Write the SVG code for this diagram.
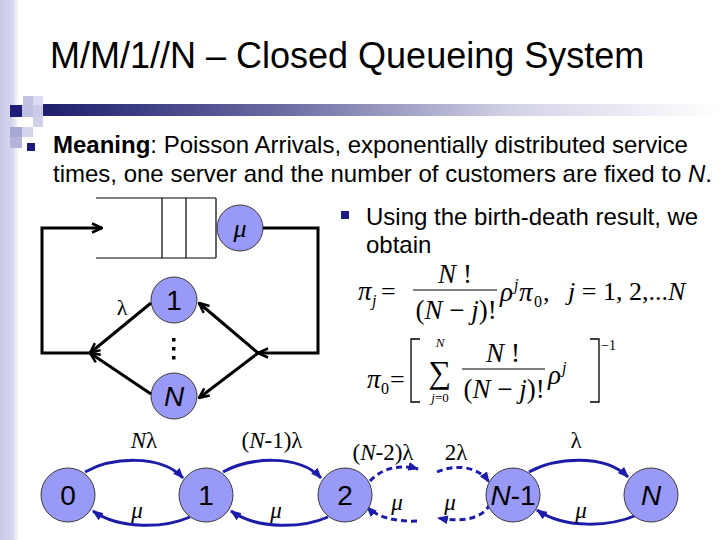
<svg xmlns="http://www.w3.org/2000/svg" width="720" height="540" viewBox="0 0 720 540">
<defs>
<linearGradient id="strip" x1="0" y1="0" x2="1" y2="0">
<stop offset="0" stop-color="#c9c9e6"/>
<stop offset="0.65" stop-color="#d6d6ee"/>
<stop offset="1" stop-color="#ffffff"/>
</linearGradient>
<linearGradient id="bar" x1="0" y1="0" x2="1" y2="0">
<stop offset="0" stop-color="#1e1e6e"/>
<stop offset="0.35" stop-color="#6a6aa2"/>
<stop offset="0.7" stop-color="#d4d4e8"/>
<stop offset="1" stop-color="#ffffff"/>
</linearGradient>
<marker id="oa" viewBox="0 0 12 12" refX="11" refY="6" markerWidth="12" markerHeight="12" markerUnits="userSpaceOnUse" orient="auto">
<path d="M1,1.5 L11,6 L1,10.5" fill="none" stroke="#000" stroke-width="2.5"/>
</marker>
<marker id="ba" viewBox="0 0 10 8" refX="9" refY="4" markerWidth="11" markerHeight="9" markerUnits="userSpaceOnUse" orient="auto">
<path d="M0,0 L10,4 L0,8 z" fill="#1c1ca8"/>
</marker>
<style>
.sans{font-family:"Liberation Sans",Arial,sans-serif;fill:#000}
.serif{font-family:"Liberation Serif","Times New Roman",serif;fill:#000}
.it{font-style:italic}
.node{fill:#9999f8;stroke:#3a3a3a;stroke-width:1}
.blk{fill:none;stroke:#000;stroke-width:3}
.box{fill:none;stroke:#000;stroke-width:1.2}
.arc{fill:none;stroke:#1c1ca8;stroke-width:3;marker-end:url(#ba)}
.dash{stroke-dasharray:6 4}
.bul{fill:#1a1a80}
</style>
</defs>

<rect x="0" y="0" width="720" height="540" fill="#fff"/>
<rect x="0" y="0" width="19" height="540" fill="url(#strip)"/>

<!-- decoration -->
<g id="decor">
<rect x="23" y="96" width="10" height="9" fill="#c4c4e2"/>
<rect x="33" y="96" width="10" height="9" fill="#dcdcf0"/>
<rect x="10" y="105" width="12" height="12" fill="#1e1e78"/>
<rect x="22" y="105" width="11" height="12" fill="#c0c0e0"/>
<rect x="33" y="105" width="10" height="12" fill="#cacae6"/>
<rect x="43" y="104" width="677" height="12" fill="url(#bar)"/>
<rect x="33" y="117" width="10" height="10" fill="#d0d0ea"/>
<rect x="10" y="127" width="12" height="10" fill="#a8a8d4"/>
<rect x="22" y="127" width="11" height="10" fill="#d4d4ec"/>
<rect x="10" y="137" width="12" height="11" fill="#b4b4da"/>
</g>

<text class="sans" x="50" y="68" font-size="36">M/M/1//N – Closed Queueing System</text>

<rect class="bul" x="27" y="143" width="8" height="8"/>
<text class="sans" x="53" y="153" font-size="24"><tspan font-weight="bold">Meaning</tspan>: Poisson Arrivals, exponentially distributed service</text>
<text class="sans" x="53" y="182" font-size="24">times, one server and the number of customers are fixed to <tspan class="it">N</tspan>.</text>

<rect class="bul" x="341" y="211" width="8" height="8"/>
<text class="sans" x="366" y="225" font-size="24">Using the birth-death result, we</text>
<text class="sans" x="366" y="253" font-size="24">obtain</text>

<!-- formula 1 -->
<g id="formula1" class="serif">
<text x="358" y="300" font-size="27" class="it">π</text>
<text x="372" y="306" font-size="16" class="it">j</text>
<text x="381" y="300" font-size="26">=</text>
<text x="455" y="283" font-size="27" text-anchor="middle"><tspan class="it">N</tspan> !</text>
<line x1="413" y1="290" x2="497" y2="290" stroke="#000" stroke-width="1.2"/>
<text x="456" y="319" font-size="27" text-anchor="middle">(<tspan class="it">N</tspan> − <tspan class="it">j</tspan>)!</text>
<text x="500" y="301" font-size="27" class="it">ρ</text>
<text x="514" y="290" font-size="16" class="it">j</text>
<text x="519" y="301" font-size="27" class="it">π</text>
<text x="534" y="307" font-size="16">0</text>
<text x="543" y="301" font-size="26">,</text>
<text x="568" y="300" font-size="26"><tspan class="it">j</tspan> = 1, 2,...<tspan class="it">N</tspan></text>
</g>

<!-- formula 2 -->
<g id="formula2" class="serif">
<text x="367" y="388" font-size="27" class="it">π</text>
<text x="381" y="394" font-size="16">0</text>
<text x="390" y="388" font-size="26">=</text>
<path d="M420,339 L411,339 L411,402 L420,402" fill="none" stroke="#000" stroke-width="1.3"/>
<text x="440" y="347" font-size="13" class="it" text-anchor="middle">N</text>
<text x="440" y="383" font-size="32" text-anchor="middle">∑</text>
<text x="440" y="402" font-size="13" text-anchor="middle"><tspan class="it">j</tspan>=0</text>
<text x="503" y="362" font-size="27" text-anchor="middle"><tspan class="it">N</tspan> !</text>
<line x1="462" y1="369" x2="545" y2="369" stroke="#000" stroke-width="1.2"/>
<text x="504" y="398" font-size="27" text-anchor="middle">(<tspan class="it">N</tspan> − <tspan class="it">j</tspan>)!</text>
<text x="548" y="384" font-size="27" class="it">ρ</text>
<text x="562" y="373" font-size="16" class="it">j</text>
<path d="M590,339 L599,339 L599,402 L590,402" fill="none" stroke="#000" stroke-width="1.3"/>
<text x="601" y="350" font-size="14">−1</text>
</g>

<!-- queue diagram -->
<g id="queue">
<line class="box" x1="96" y1="198" x2="216" y2="198"/>
<line class="box" x1="96" y1="258" x2="216" y2="258"/>
<line class="box" x1="162" y1="198" x2="162" y2="258"/>
<line class="box" x1="186" y1="198" x2="186" y2="258"/>
<line class="box" x1="216" y1="198" x2="216" y2="258"/>
</g>
<g id="server">
<circle class="node" cx="240" cy="228" r="23"/>
<text class="serif it" x="240" y="237" font-size="26" text-anchor="middle">μ</text>
</g>
<g id="source1">
<circle class="node" cx="174" cy="300" r="23"/>
<text class="sans" x="174" y="310" font-size="28" text-anchor="middle">1</text>
</g>
<g id="sourceN">
<circle class="node" cx="174" cy="396" r="23"/>
<text class="sans it" x="174" y="406" font-size="28" text-anchor="middle">N</text>
</g>
<g id="dots" fill="#000">
<rect x="172" y="338" width="3.5" height="3.5"/>
<rect x="172" y="347" width="3.5" height="3.5"/>
<rect x="172" y="356" width="3.5" height="3.5"/>
</g>
<text class="serif" x="122" y="315" font-size="22" text-anchor="middle">λ</text>

<g id="connectors">
<polyline class="blk" points="263,228 318,228 318,353 258,353" marker-end="url(#oa)"/>
<line class="blk" x1="258" y1="353" x2="199" y2="303" marker-end="url(#oa)"/>
<line class="blk" x1="258" y1="353" x2="199" y2="398" marker-end="url(#oa)"/>
<line class="blk" x1="151" y1="303" x2="90" y2="353" marker-end="url(#oa)"/>
<line class="blk" x1="151" y1="394" x2="90" y2="353" marker-end="url(#oa)"/>
<polyline class="blk" points="90,353 42,353 42,228 102,228" marker-end="url(#oa)"/>

<path class="arc" d="M85,472 C110,458 160,453 183,478"/>
<path class="arc" d="M190,517 C165,528 120,530 93,511"/>
<path class="arc" d="M223,472 C248,458 298,453 321,478"/>
<path class="arc" d="M328,517 C303,528 258,530 231,511"/>
<path class="arc dash" d="M370,481 C382,468 400,464 418,469"/>
<path class="arc dash" d="M417,521 C398,522 378,518 367,507"/>
<path class="arc dash" d="M437,472 C455,464 478,466 489,482"/>
<path class="arc dash" d="M490,504 C482,520 460,522 438,518"/>
<path class="arc" d="M529,472 C554,458 604,453 628,477"/>
<path class="arc" d="M637,515 C612,526 566,530 537,510"/>
</g>

<g id="s0"><circle class="node" cx="68" cy="495" r="27"/><text class="sans" x="68" y="505" font-size="28" text-anchor="middle">0</text></g>
<g id="s1"><circle class="node" cx="206" cy="495" r="27"/><text class="sans" x="206" y="505" font-size="28" text-anchor="middle">1</text></g>
<g id="s2"><circle class="node" cx="345" cy="495" r="27"/><text class="sans" x="345" y="505" font-size="28" text-anchor="middle">2</text></g>
<g id="sN1"><circle class="node" cx="513" cy="495" r="27"/><text class="sans" x="513" y="505" font-size="28" text-anchor="middle"><tspan class="it">N</tspan>-1</text></g>
<g id="sN"><circle class="node" cx="651" cy="495" r="27"/><text class="sans it" x="651" y="505" font-size="28" text-anchor="middle">N</text></g>

<g id="labels" class="serif" font-size="23" text-anchor="middle">
<text x="144" y="448"><tspan class="it">N</tspan>λ</text>
<text x="272" y="448">(<tspan class="it">N</tspan>-1)λ</text>
<text x="383" y="460">(<tspan class="it">N</tspan>-2)λ</text>
<text x="456" y="460">2λ</text>
<text x="576" y="448">λ</text>
<text x="137" y="518" class="it">μ</text>
<text x="276" y="518" class="it">μ</text>
<text x="397" y="510" class="it">μ</text>
<text x="450" y="510" class="it">μ</text>
<text x="581" y="518" class="it">μ</text>
</g>
</svg>
